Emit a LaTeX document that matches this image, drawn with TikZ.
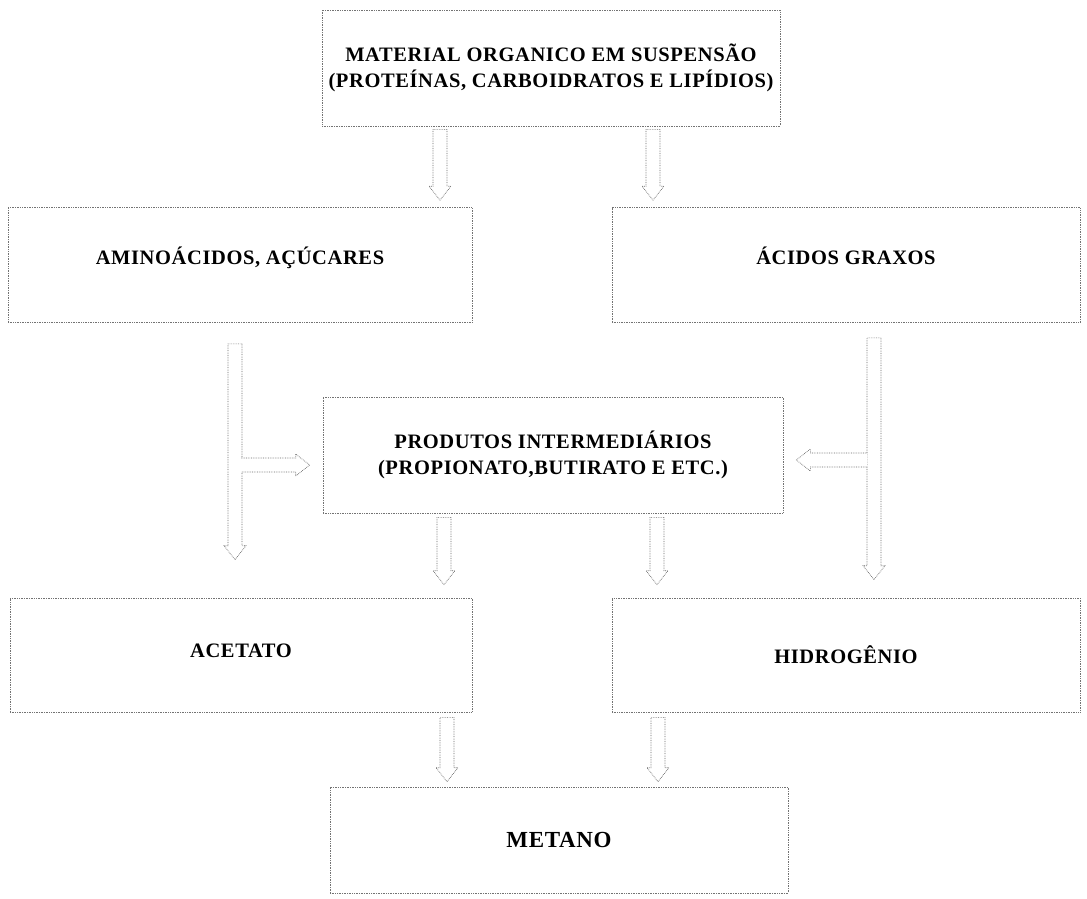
\documentclass[tikz,border=0pt]{standalone}
\usepackage{fontspec}
\setmainfont{Liberation Serif}[LetterSpace=3]
\usetikzlibrary{arrows.meta,positioning,calc}

\begin{document}
\begin{tikzpicture}[
  x=1pt, y=-1pt,
  every node/.style={font=\fontsize{20.5}{26}\selectfont\bfseries},
  etapa/.style={draw=black!55, densely dotted, line width=0.7pt, align=center, inner sep=0pt},
  % seta vazada (contorno)
  fluxo/.style={draw=black!60, fill=white, densely dotted, line width=0.7pt, to path={
    ($(\tikztostart)!7pt!90:(\tikztotarget)$)
    -- ($(\tikztotarget)!14pt!(\tikztostart)!7pt!90:(\tikztotarget)$)
    -- ($(\tikztotarget)!14pt!(\tikztostart)!11pt!90:(\tikztotarget)$)
    -- (\tikztotarget)
    -- ($(\tikztotarget)!14pt!(\tikztostart)!11pt!-90:(\tikztotarget)$)
    -- ($(\tikztotarget)!14pt!(\tikztostart)!7pt!-90:(\tikztotarget)$)
    -- ($(\tikztostart)!7pt!-90:(\tikztotarget)$) -- cycle}},
  % ramo lateral (aberto no inicio)
  ramo/.style={draw=black!60, fill=white, densely dotted, line width=0.7pt, to path={
    ($(\tikztostart)!7pt!90:(\tikztotarget)$)
    -- ($(\tikztotarget)!14pt!(\tikztostart)!7pt!90:(\tikztotarget)$)
    -- ($(\tikztotarget)!14pt!(\tikztostart)!11pt!90:(\tikztotarget)$)
    -- (\tikztotarget)
    -- ($(\tikztotarget)!14pt!(\tikztostart)!11pt!-90:(\tikztotarget)$)
    -- ($(\tikztotarget)!14pt!(\tikztostart)!7pt!-90:(\tikztotarget)$)
    -- ($(\tikztostart)!7pt!-90:(\tikztotarget)$)}}
]
  \useasboundingbox (0,0) rectangle (1087,898);

  %--- caixas
  \node[etapa, minimum width=458pt, minimum height=116pt] (materia) at (551,68)
    {MATERIAL ORGANICO EM SUSPENSÃO\\(PROTEÍNAS, CARBOIDRATOS E LIPÍDIOS)};
  \node[etapa, minimum width=464pt, minimum height=115pt, text depth=18pt] (amino) at (240,265)
    {AMINOÁCIDOS, AÇÚCARES};
  \node[etapa, minimum width=468pt, minimum height=115pt, text depth=18pt] (graxos) at (846,265)
    {ÁCIDOS GRAXOS};
  \node[etapa, minimum width=460pt, minimum height=116pt] (interm) at (553,455)
    {PRODUTOS INTERMEDIÁRIOS\\(PROPIONATO,BUTIRATO E ETC.)};
  \node[etapa, minimum width=462pt, minimum height=114pt, text depth=8pt] (acetato) at (241,655)
    {ACETATO};
  \node[etapa, minimum width=468pt, minimum height=114pt] (hidro) at (846,655)
    {HIDROGÊNIO};
  \node[etapa, minimum width=458pt, minimum height=106pt, font=\fontsize{23}{28}\selectfont\bfseries] (metano) at (559,840)
    {METANO};

  %--- hidrolise
  \draw[fluxo] ([xshift=-111pt, yshift=-3pt]materia.south) to ([xshift=-111pt, yshift=7pt]materia.south |- amino.north);
  \draw[fluxo] ([xshift=102pt, yshift=-3pt]materia.south) to ([xshift=102pt, yshift=7pt]materia.south |- graxos.north);

  %--- acidogenese (com ramos)
  \draw[fluxo] ([xshift=-5pt, yshift=-21pt]amino.south) to ([xshift=-5pt, yshift=38pt]amino.south |- acetato.north);
  \coordinate (ramoA) at ([xshift=1pt, yshift=-10pt]interm.west -| amino.south);
  \draw[ramo] (ramoA) to ([xshift=-13pt, yshift=-10pt]interm.west);
  \draw[fluxo] ([xshift=28pt, yshift=-15pt]graxos.south) to ([xshift=28pt, yshift=18pt]graxos.south |- hidro.north);
  \coordinate (ramoG) at ([xshift=21pt, yshift=-5pt]interm.east -| graxos.south);
  \draw[ramo] (ramoG) to ([xshift=13pt, yshift=-5pt]interm.east);

  %--- acetogenese
  \draw[fluxo] ([xshift=-109pt, yshift=-4pt]interm.south) to ([xshift=-109pt, yshift=13pt]interm.south |- acetato.north);
  \draw[fluxo] ([xshift=104pt, yshift=-4pt]interm.south) to ([xshift=104pt, yshift=13pt]interm.south |- hidro.north);

  %--- metanogenese
  \draw[fluxo] ([xshift=-112pt, yshift=-5pt]metano.north |- acetato.south) to ([xshift=-112pt, yshift=5pt]metano.north);
  \draw[fluxo] ([xshift=99pt, yshift=-5pt]metano.north |- hidro.south) to ([xshift=99pt, yshift=5pt]metano.north);
\end{tikzpicture}
\end{document}
